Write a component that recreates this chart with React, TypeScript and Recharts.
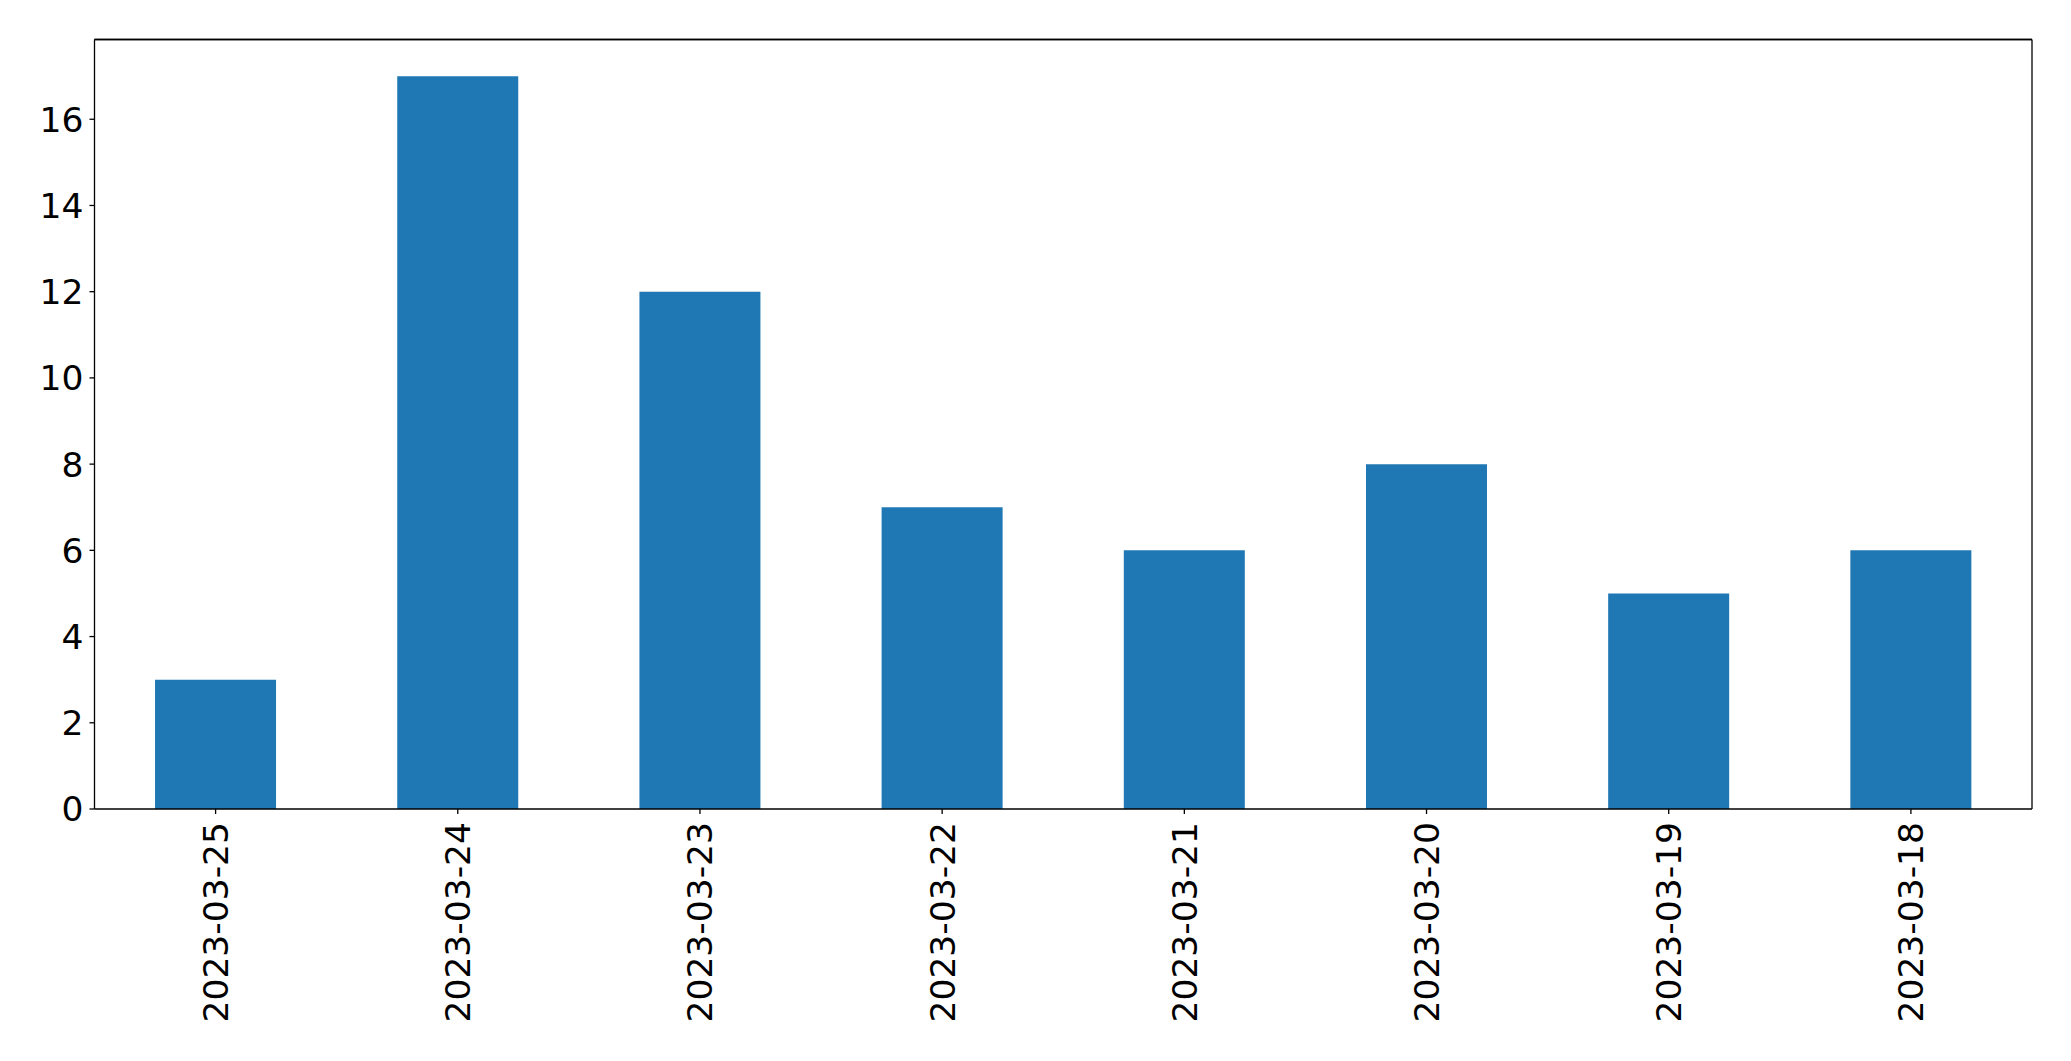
import React from "react";
import { BarChart, Bar, XAxis, YAxis, ReferenceLine } from "recharts";

const categories = [
  "2023-03-25",
  "2023-03-24",
  "2023-03-23",
  "2023-03-22",
  "2023-03-21",
  "2023-03-20",
  "2023-03-19",
  "2023-03-18",
];
const counts = [3, 17, 12, 7, 6, 8, 5, 6];
const yTicks = [0, 2, 4, 6, 8, 10, 12, 14, 16];
const yMax = 17.85;

const data = categories.map((c, i) => ({ date: c, count: counts[i] }));

const FONT = "DejaVu Sans";
const FS = 34.5;
const LINE = { stroke: "#000", strokeWidth: 1.3 };

const XTick = (props: any) => {
  const { x, y, payload } = props;
  return (
    <text
      x={x}
      y={y}
      transform={`rotate(-90, ${x}, ${y})`}
      textAnchor="end"
      dy="0.36em"
      fontFamily={FONT}
      fontSize={FS}
      fill="#000"
    >
      {payload.value}
    </text>
  );
};

const YTick = (props: any) => {
  const { x, y, payload } = props;
  return (
    <text
      x={x}
      y={y}
      textAnchor="end"
      dy="0.36em"
      fontFamily={FONT}
      fontSize={FS}
      fill="#000"
    >
      {payload.value}
    </text>
  );
};

export default function App() {
  return (
    <div style={{ position: "absolute", left: 0, top: 0, background: "#fff" }}>
      <BarChart
        width={2071}
        height={1061}
        data={data}
        margin={{ top: 38.5, right: 38, bottom: 0, left: 0 }}
        barCategoryGap="25%"
      >
        <XAxis
          dataKey="date"
          interval={0}
          height={252}
          tick={<XTick />}
          tickSize={5}
          tickMargin={8}
          axisLine={LINE}
          tickLine={LINE}
        />
        <XAxis
          xAxisId="top"
          dataKey="date"
          orientation="top"
          height={1}
          tick={false}
          tickLine={false}
          axisLine={LINE}
        />
        <YAxis
          width={94.5}
          domain={[0, yMax]}
          ticks={yTicks}
          allowDataOverflow
          tick={<YTick />}
          tickSize={5}
          tickMargin={6}
          axisLine={LINE}
          tickLine={LINE}
        />
        <YAxis
          yAxisId="right"
          orientation="right"
          width={1}
          domain={[0, yMax]}
          tick={false}
          tickLine={false}
          axisLine={LINE}
        />
        <ReferenceLine y={yMax} stroke="#000" strokeWidth={1.3} ifOverflow="visible" />
        <Bar dataKey="count" fill="#1f77b4" isAnimationActive={false} />
      </BarChart>
    </div>
  );
}
